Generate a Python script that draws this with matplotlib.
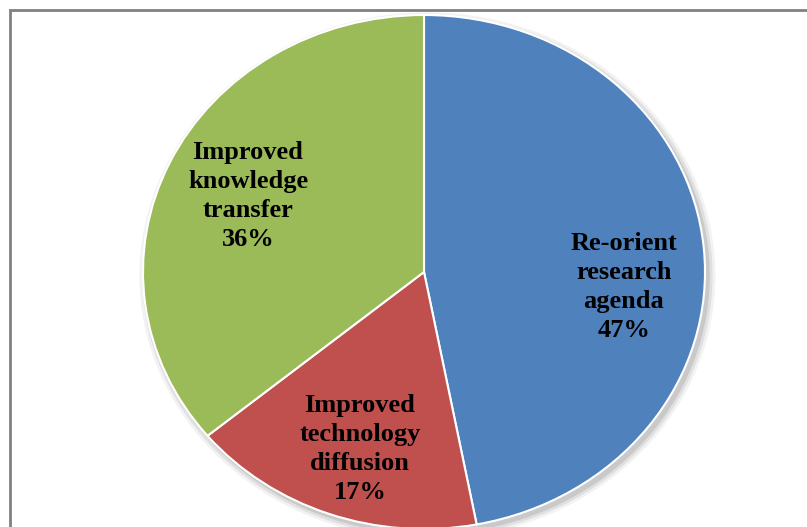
import numpy as np
import matplotlib.pyplot as plt
from matplotlib.patches import Ellipse, Rectangle

# Data
labels = ['Re-orient\nresearch\nagenda', 'Improved\ntechnology\ndiffusion', 'Improved\nknowledge\ntransfer']
shares = [47, 17, 36]
colors = ['#4f81bd', '#c0504d', '#9bbb59']

W, H = 807, 527
fig = plt.figure(figsize=(W / 100, H / 100), dpi=100)
ax = fig.add_axes([0, 0, 1, 1])

# pixel geometry of the (stretched) pie
cx, cy, rx, ry = 424, 272, 281, 257

# soft shadow
for i, a in enumerate([0.05, 0.07, 0.1]):
    ax.add_patch(Ellipse((0.012, -0.015), 2.05 - i * 0.02, 2.05 - i * 0.02,
                         facecolor='#000000', alpha=a, lw=0, zorder=0))

wedges, _ = ax.pie(shares, colors=colors, startangle=90, counterclock=False,
                   radius=1, wedgeprops=dict(edgecolor='white', linewidth=1.5))
ax.set_aspect('auto')
ax.set_xlim((0 - cx) / rx, (W - cx) / rx)
ax.set_ylim((cy - H) / ry, cy / ry)
ax.axis('off')

# label centres in pixel coordinates
label_pos = [(624, 287), (360, 449), (248, 196)]
for lab, s, (px, py) in zip(labels, shares, label_pos):
    ax.text((px - cx) / rx, (cy - py) / ry, f'{lab}\n{s}%', ha='center', va='center',
            fontsize=19, fontweight='bold', family='Liberation Serif', linespacing=1.32,
            color='black')

# outer frame
fig.patches.append(Rectangle((9.5 / W, -0.1), 1.2, (H - 9.5) / H + 0.1,
                             transform=fig.transFigure, fill=False,
                             edgecolor='#808080', linewidth=2))

fig.savefig('out.png', dpi=100, facecolor='white')
